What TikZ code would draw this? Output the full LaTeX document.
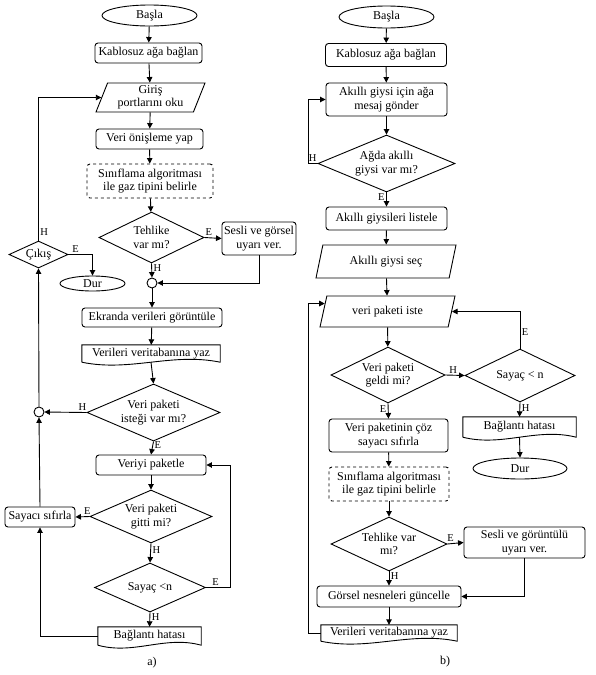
\documentclass[tikz,border=0pt]{standalone}
\usepackage{fontspec}
\setmainfont{Liberation Serif}
\usetikzlibrary{shapes.geometric,arrows.meta,calc}

% outline of a document box (wavy bottom)
\newcommand{\docframe}[1]{%
  \draw[line width=0.9pt] (#1.south west) -- (#1.north west) -- (#1.north east) -- (#1.south east)
    .. controls ($(#1.south east)!0.35!(#1.south west)+(0,-10)$) and ($(#1.south west)!0.35!(#1.south east)+(0,10)$) .. (#1.south west);}

\begin{document}
\begin{tikzpicture}[x=1pt,y=-1pt,
    font=\fontsize{12}{13.5}\selectfont,
    proc/.style={draw, rounded corners=3pt, align=center, inner sep=1pt, line width=0.9pt},
    dproc/.style={proc, dashed},
    term/.style={draw, ellipse, inner sep=0pt, line width=0.9pt},
    dec/.style={draw, diamond, aspect=2, inner sep=0pt, align=center, line width=0.9pt},
    io/.style={draw, trapezium, trapezium stretches body, trapezium left angle=66,
      trapezium right angle=114, inner sep=1pt, align=center, line width=0.9pt},
    doc/.style={rectangle, inner sep=1pt, align=center},
    conn/.style={draw, circle, minimum size=10pt, inner sep=0pt, line width=0.9pt},
    arr/.style={-{Triangle[length=5.5pt,width=5.5pt]}, line width=0.9pt},
    lbl/.style={font=\fontsize{10.5}{12}\selectfont, inner sep=1.5pt}]
  \useasboundingbox (0,0) rectangle (596,675);

  % a) left chart
  \node[term, minimum width=95pt, minimum height=21pt] (lbasla) at (149.5,15.5) {Başla};
  \node[proc, minimum width=107pt, minimum height=20pt] (lkablo) at (148.5,53) {Kablosuz ağa bağlan};
  \node[io, minimum width=109pt, minimum height=29pt] (lgiris) at (150.5,97.5) {Giriş\\portlarını oku};
  \node[proc, minimum width=107pt, minimum height=20pt] (lonis) at (149.5,139) {Veri önişleme yap};
  \node[dproc, minimum width=126pt, minimum height=34pt] (lsinif) at (150,181) {Sınıflama algoritması\\ile gaz tipini belirle};
  \node[dec, minimum width=105pt, minimum height=51pt] (ltehlike) at (151.5,237.5) {Tehlike\\var mı?};
  \node[proc, minimum width=74pt, minimum height=33pt] (lsesli) at (259,238.5) {Sesli ve görsel\\uyarı ver.};
  \node[conn] (lcirc1) at (152,283) {};
  \node[proc, minimum width=140pt, minimum height=19pt] (lekran) at (152,317.5) {Ekranda verileri görüntüle};
  \node[doc, minimum width=138pt, minimum height=17pt] (lkayit) at (151,353.5) {Verileri veritabanına yaz};
  \docframe{lkayit}
  \node[dec, minimum width=133pt, minimum height=55pt] (lpaket) at (153.5,412.5) {Veri paketi\\isteği var mı?};
  \node[conn] (lcirc2) at (39,412) {};
  \node[dec, minimum width=59pt, minimum height=27pt] (lcikis) at (38.5,254.5) {Çıkış};
  \node[term, minimum width=65pt, minimum height=15pt] (ldur) at (92.5,283.5) {Dur};
  \node[proc, minimum width=110pt, minimum height=20pt] (lveriyi) at (151,465) {Veriyi paketle};
  \node[dec, minimum width=122pt, minimum height=53pt] (lgitti) at (151,516.5) {Veri paketi\\gitti mi?};
  \node[proc, minimum width=70pt, minimum height=20pt] (lsayaci) at (40,517) {Sayacı sıfırla};
  \node[dec, minimum width=111pt, minimum height=49pt] (lsayac) at (150,587.5) {Sayaç <n};
  \node[doc, minimum width=103pt, minimum height=18pt] (lhata) at (149.5,636) {Bağlantı hatası};
  \docframe{lhata}
  \node (la) at (152,663) {a)};
  \coordinate (lrail) at (230,0);

  \draw[arr] (lbasla) -- (lkablo);
  \draw[arr] (lkablo) -- (lgiris);
  \draw[arr] (lgiris) -- (lonis);
  \draw[arr] (lonis) -- (lsinif);
  \draw[arr] (lsinif) -- (ltehlike);
  \draw[arr] (ltehlike.east) -- node[lbl, above, pos=0.25] {E} (lsesli.west);
  \draw[arr] (ltehlike.south) -- node[lbl, right, pos=0.35] {H} (lcirc1.north);
  \draw[arr] (lsesli.south) |- (lcirc1.east);
  \draw[arr] (lcirc1) -- (lekran);
  \draw[arr] (lekran) -- (lkayit);
  \draw[arr] (lkayit.south) -- (lpaket.north);
  \draw[arr] (lpaket.west) -- node[lbl, above, pos=0.1] {H} (lcirc2.east);
  \draw[arr] (lpaket.south) -- node[lbl, right, pos=0.3] {E} (lveriyi.north);
  \draw[arr] (lcirc2.north) -- (lcikis.south);
  \draw[arr] (lcikis.north) |- node[lbl, right, pos=0.03] {H} (lgiris.west);
  \draw[arr] (lcikis.east) -| node[lbl, above, pos=0.15] {E} (ldur.north);
  \draw[arr] (lveriyi) -- (lgitti);
  \draw[arr] (lgitti.west) -- node[lbl, above, pos=0.15] {E} (lsayaci.east);
  \draw[arr] (lsayaci.north) -- (lcirc2.south);
  \draw[arr] (lgitti.south) -- node[lbl, right, pos=0.35] {H} (lsayac.north);
  \draw[arr] (lsayac.east) -| node[lbl, above, pos=0.2] {E} (lrail |- lveriyi.east) -- (lveriyi.east);
  \draw[arr] (lsayac.south) -- node[lbl, right, pos=0.35] {H} (lhata.north);
  \draw[arr] (lhata.west) -| (lsayaci.south);

  % b) right chart
  \node[term, minimum width=95pt, minimum height=22pt] (rbasla) at (386.5,17) {Başla};
  \node[proc, minimum width=121pt, minimum height=23pt] (rkablo) at (386,55) {Kablosuz ağa bağlan};
  \node[proc, minimum width=121pt, minimum height=33pt] (rmesaj) at (386.5,99.5) {Akıllı giysi için ağa\\mesaj gönder};
  \node[dec, minimum width=137pt, minimum height=57pt] (ragda) at (386.5,163.5) {Ağda akıllı\\giysi var mı?};
  \node[proc, minimum width=121pt, minimum height=23pt] (rliste) at (386.5,218.5) {Akıllı giysileri listele};
  \node[io, trapezium left angle=62, trapezium right angle=118, minimum width=140pt, minimum height=33pt] (rsec) at (386,261.5) {Akıllı giysi seç};
  \node[io, trapezium left angle=62, trapezium right angle=118, minimum width=135pt, minimum height=31pt] (riste) at (387.5,311.5) {veri paketi iste};
  \node[dec, minimum width=114pt, minimum height=56pt] (rgeldi) at (388,375) {Veri paketi\\geldi mi?};
  \node[dec, minimum width=110pt, minimum height=53pt] (rsayac) at (520,375.5) {Sayaç < n};
  \node[doc, minimum width=113pt, minimum height=20pt] (rhata) at (519.5,427) {Bağlantı hatası};
  \docframe{rhata}
  \node[term, minimum width=94pt, minimum height=21pt] (rdur) at (520,468.5) {Dur};
  \node[proc, minimum width=119pt, minimum height=33pt] (rcoz) at (388.5,435.5) {Veri paketinin çöz\\sayacı sıfırla};
  \node[dproc, minimum width=120pt, minimum height=34pt] (rsinif) at (389,484) {Sınıflama algoritması\\ile gaz tipini belirle};
  \node[dec, minimum width=116pt, minimum height=54pt] (rtehlike) at (389,544) {Tehlike var\\mı?};
  \node[proc, minimum width=121pt, minimum height=31pt] (rsesli) at (524.5,542.5) {Sesli ve görüntülü\\uyarı ver.};
  \node[proc, minimum width=144pt, minimum height=21pt] (rgorsel) at (389,596.5) {Görsel nesneleri güncelle};
  \node[doc, minimum width=136pt, minimum height=16pt] (rkayit) at (389,633) {Verileri veritabanına yaz};
  \docframe{rkayit}
  \node (rb) at (445,662) {b)};
  \coordinate (rrail) at (308,0);
  \coordinate (rin) at ($(riste.bottom left corner)!0.75!(riste.top left corner)$);

  \draw[arr] (rbasla) -- (rkablo);
  \draw[arr] (rkablo) -- (rmesaj);
  \draw[arr] (rmesaj) -- (ragda);
  \draw[arr] (ragda.west) -- node[lbl, above, pos=0.5] {H} (rrail |- ragda.west) |- (rmesaj.west);
  \draw[arr] (ragda.south) -- node[lbl, left, pos=0.3] {E} (rliste.north);
  \draw[arr] (rliste) -- (rsec);
  \draw[arr] (rsec) -- (riste);
  \draw[arr] (riste) -- (rgeldi);
  \draw[arr] (rgeldi.east) -- node[lbl, above, pos=0.4] {H} (rsayac.west);
  \draw[arr] (rsayac.north) |- node[lbl, right, pos=0.22] {E} (riste.east);
  \draw[arr] (rsayac.south) -- node[lbl, right, pos=0.4] {H} (rhata.north);
  \draw[arr] (rhata.south) -- (rdur.north);
  \draw[arr] (rgeldi.south) -- node[lbl, left, pos=0.4] {E} (rcoz.north);
  \draw[arr] (rcoz) -- (rsinif);
  \draw[arr] (rsinif) -- (rtehlike);
  \draw[arr] (rtehlike.east) -- node[lbl, above, pos=0.2] {E} (rsesli.west);
  \draw[arr] (rtehlike.south) -- node[lbl, right, pos=0.35] {H} (rgorsel.north);
  \draw[arr] (rsesli.south) |- (rgorsel.east);
  \draw[arr] (rgorsel) -- (rkayit);
  \draw[arr] (rkayit.west) -| (rrail |- rin) -- (rin);
\end{tikzpicture}
\end{document}
